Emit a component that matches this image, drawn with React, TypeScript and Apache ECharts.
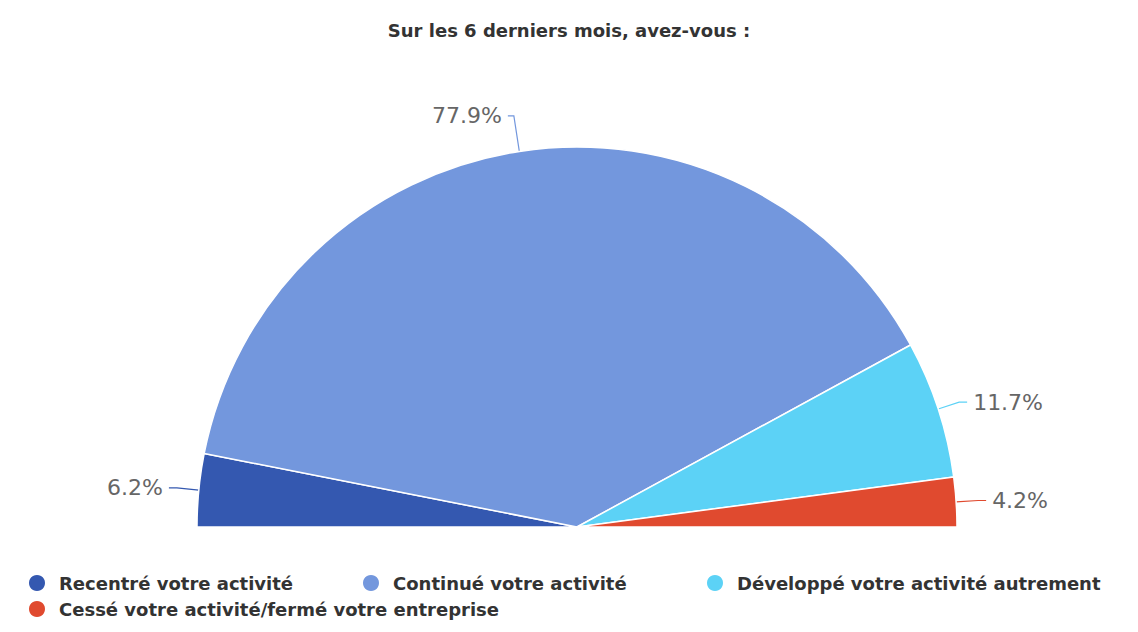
import React, { useEffect, useRef } from "react";
import * as echarts from "echarts";

const categories = [
  "Recentré votre activité",
  "Continué votre activité",
  "Développé votre activité autrement",
  "Cessé votre activité/fermé votre entreprise",
];
const values = [6.2, 77.9, 11.7, 4.2];
const colors = ["#3458b0", "#7397dd", "#5cd2f6", "#e04a2f"];
const titleText = "Sur les 6 derniers mois, avez-vous :";

export default function App() {
  const ref = useRef<HTMLDivElement>(null);
  useEffect(() => {
    if (!ref.current) return;
    const chart = echarts.init(ref.current, undefined, { renderer: "svg" });
    const legendPos = [
      { left: 27, top: 573 },
      { left: 361, top: 573 },
      { left: 705, top: 573 },
      { left: 27, top: 599 },
    ];
    chart.setOption({
      animation: false,
      backgroundColor: "#ffffff",
      color: colors,
      title: {
        text: titleText,
        left: "center",
        top: 16,
        textStyle: {
          fontFamily: "DejaVu Sans",
          fontSize: 18,
          fontWeight: "bold",
          color: "#333333",
        },
      },
      legend: categories.map((c, i) => ({
        data: [c],
        left: legendPos[i].left,
        top: legendPos[i].top,
        padding: 0,
        icon: "circle",
        itemWidth: 18,
        itemHeight: 18,
        selectedMode: false,
        textStyle: {
          fontFamily: "DejaVu Sans",
          fontSize: 18,
          fontWeight: "bold",
          color: "#333333",
          padding: [0, 0, 0, 8],
        },
      })),
      series: [
        {
          type: "pie",
          center: [577, 527],
          radius: [0, 380],
          startAngle: 180,
          endAngle: 0,
          clockwise: true,
          itemStyle: { borderColor: "#ffffff", borderWidth: 1.5 },
          label: {
            show: true,
            position: "outside",
            formatter: (p: any) => p.value.toFixed(1) + "%",
            fontFamily: "DejaVu Sans",
            fontSize: 22,
            color: "#666666",
            distanceToLabelLine: 6,
          },
          labelLine: { show: true, length: 22, length2: 8, lineStyle: { width: 1.2 } },
          data: categories.map((c, i) =>
            i === 1
              ? { name: c, value: values[i], labelLine: { length: 36, length2: 6 } }
              : { name: c, value: values[i] }
          ),
        },
      ],
    });
    return () => chart.dispose();
  }, []);
  return (
    <div
      ref={ref}
      style={{ position: "absolute", left: 0, top: 0, width: 1138, height: 632 }}
    />
  );
}
